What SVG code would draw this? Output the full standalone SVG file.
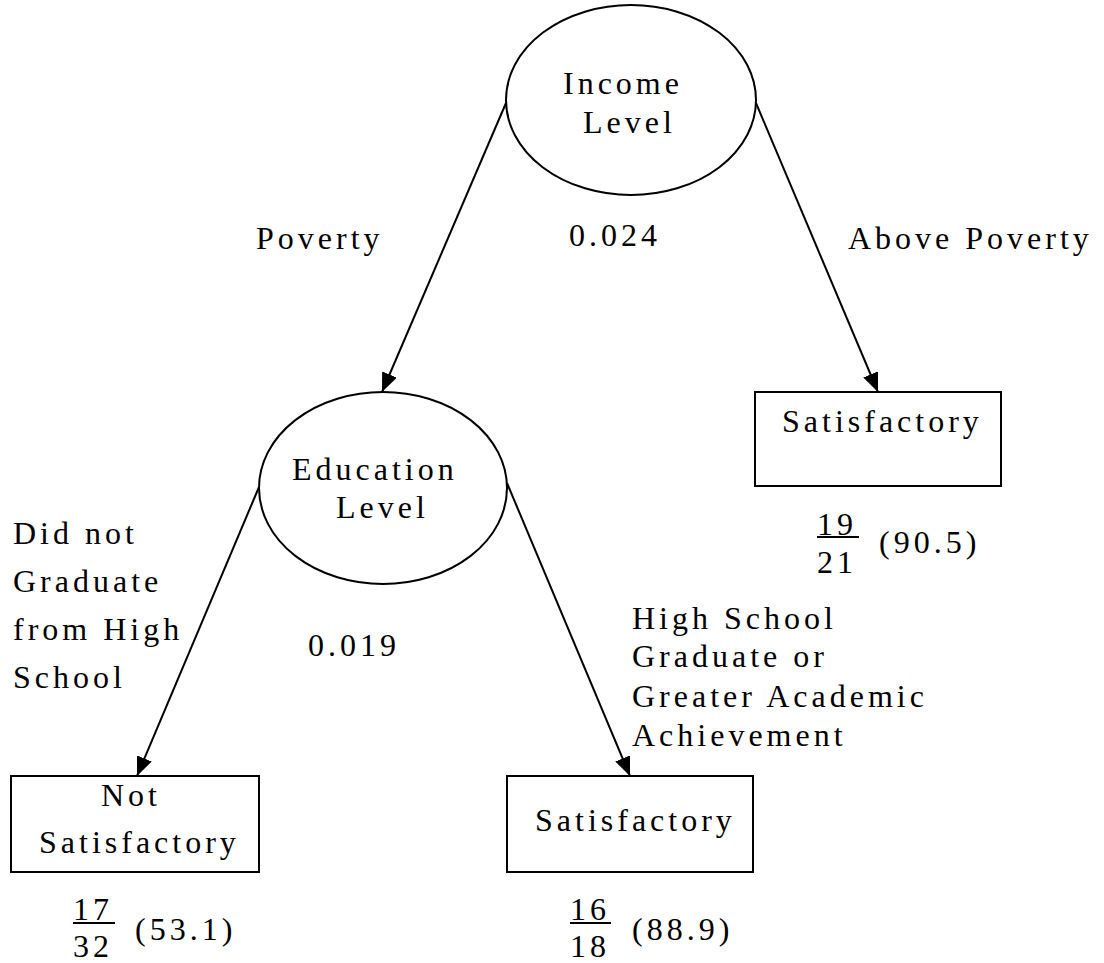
<svg xmlns="http://www.w3.org/2000/svg" width="1104" height="963" viewBox="0 0 1104 963">
  <style>
    text { font-family: "Liberation Serif", "Times New Roman", serif; font-size: 32px; letter-spacing: 4px; fill: #000; }
    .shape { fill: #fff; stroke: #000; stroke-width: 2; }
    .edge { stroke: #000; stroke-width: 2; fill: none; marker-end: url(#arrow); }
    .bar { stroke: #000; stroke-width: 2; }
  </style>
  <defs>
    <marker id="arrow" markerUnits="userSpaceOnUse" markerWidth="20" markerHeight="16" refX="19" refY="8" orient="auto">
      <path d="M0,0 L19,8 L0,16 Z" fill="#000"/>
    </marker>
  </defs>
  <rect width="1104" height="963" fill="#fff"/>

  <!-- connectors -->
  <g id="edges">
    <line class="edge" x1="506" y1="103" x2="382" y2="392"/>
    <line class="edge" x1="756" y1="103" x2="878" y2="392"/>
    <line class="edge" x1="259" y1="487" x2="137" y2="776"/>
    <line class="edge" x1="507" y1="483" x2="630" y2="776"/>
  </g>

  <!-- branch labels -->
  <g id="edge-labels">
    <text x="256" y="249">Poverty</text>
    <text x="569" y="246">0.024</text>
    <text x="848" y="249">Above Poverty</text>
    <text x="13" y="544">Did not</text>
    <text x="13" y="592">Graduate</text>
    <text x="13" y="640">from High</text>
    <text x="13" y="688">School</text>
    <text x="308" y="656">0.019</text>
    <text x="632" y="629">High School</text>
    <text x="632" y="667">Graduate or</text>
    <text x="632" y="707">Greater Academic</text>
    <text x="632" y="746">Achievement</text>
  </g>

  <g id="income-level">
    <ellipse class="shape" cx="631" cy="100" rx="125" ry="95"/>
    <text x="563" y="94">Income</text>
    <text x="583" y="133">Level</text>
  </g>

  <g id="education-level">
    <ellipse class="shape" cx="383" cy="488" rx="124" ry="96"/>
    <text x="292" y="480">Education</text>
    <text x="336" y="518">Level</text>
  </g>

  <g id="leaf-above-poverty">
    <rect class="shape" x="755" y="392" width="246" height="94"/>
    <text x="782" y="432">Satisfactory</text>
    <text x="817" y="535">19</text>
    <line class="bar" x1="817" y1="537" x2="859" y2="537"/>
    <text x="817" y="573">21</text>
    <text x="879" y="553">(90.5)</text>
  </g>

  <g id="leaf-not-graduate">
    <rect class="shape" x="11" y="776" width="248" height="96"/>
    <text x="101" y="806">Not</text>
    <text x="39" y="853">Satisfactory</text>
    <text x="73" y="920">17</text>
    <line class="bar" x1="73" y1="923" x2="115" y2="923"/>
    <text x="73" y="957">32</text>
    <text x="135" y="940">(53.1)</text>
  </g>

  <g id="leaf-graduate">
    <rect class="shape" x="507" y="776" width="246" height="96"/>
    <text x="535" y="831">Satisfactory</text>
    <text x="570" y="920">16</text>
    <line class="bar" x1="570" y1="923" x2="611" y2="923"/>
    <text x="570" y="957">18</text>
    <text x="632" y="940">(88.9)</text>
  </g>
</svg>
